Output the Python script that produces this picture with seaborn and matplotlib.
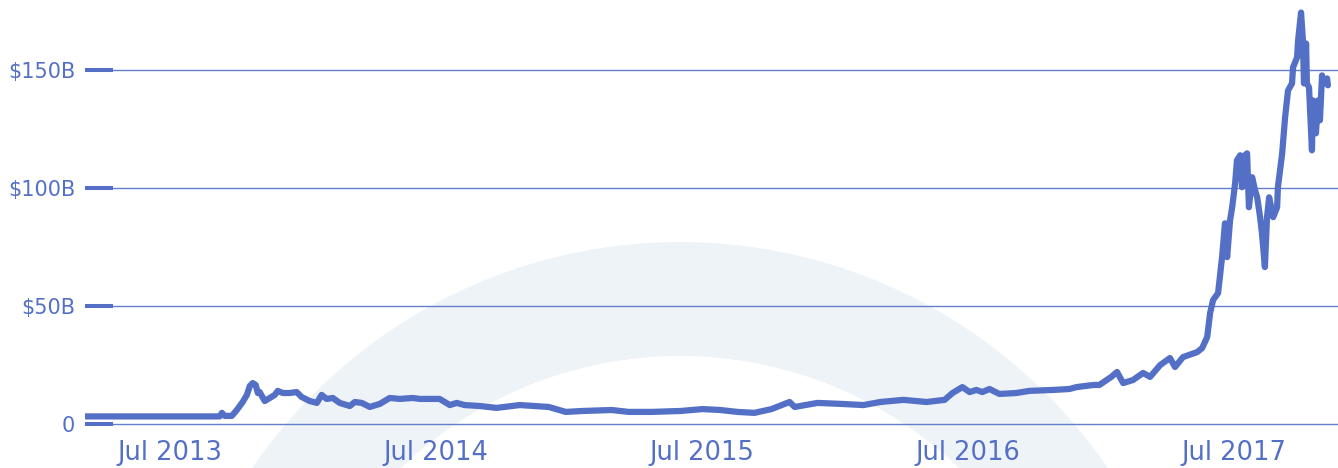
import numpy as np
import pandas as pd
import matplotlib
matplotlib.use("Agg")
import matplotlib.pyplot as plt
import matplotlib.dates as mdates
from matplotlib.patches import Wedge
from matplotlib.ticker import FuncFormatter
import seaborn as sns

sns.set_theme(style="white")
plt.rcParams["font.family"] = ["DejaVu Sans"]

BLUE = "#5470C6"
WATERMARK = "#EEF3F8"

# Time as decimal years, market cap in billions USD
years = [
    2013.177, 2013.684, 2013.692, 2013.703, 2013.729, 2013.748, 2013.770, 2013.786,
    2013.797, 2013.808, 2013.819, 2013.827, 2013.834, 2013.853, 2013.872, 2013.891,
    2013.902, 2013.921, 2013.947, 2013.973, 2013.992, 2014.022, 2014.049, 2014.067,
    2014.086, 2014.109, 2014.135, 2014.173, 2014.192, 2014.218, 2014.248, 2014.286,
    2014.323, 2014.361, 2014.410, 2014.436, 2014.473, 2014.511, 2014.549, 2014.575,
    2014.605, 2014.661, 2014.725, 2014.812, 2014.921, 2014.985, 2015.049, 2015.158,
    2015.222, 2015.308, 2015.417, 2015.500, 2015.567, 2015.631, 2015.695, 2015.759,
    2015.827, 2015.846, 2015.932, 2016.019, 2016.105, 2016.169, 2016.255, 2016.342,
    2016.410, 2016.440, 2016.477, 2016.504, 2016.530, 2016.552, 2016.579, 2016.616,
    2016.680, 2016.729, 2016.819, 2016.880, 2016.906, 2016.970, 2016.992, 2017.034,
    2017.056, 2017.079, 2017.116, 2017.154, 2017.180, 2017.218, 2017.255, 2017.274,
    2017.304, 2017.357, 2017.376, 2017.395, 2017.406, 2017.417, 2017.436, 2017.451,
    2017.462, 2017.470, 2017.481, 2017.489, 2017.500, 2017.507, 2017.519, 2017.526,
    2017.537, 2017.545, 2017.552, 2017.564, 2017.575, 2017.583, 2017.594, 2017.601,
    2017.612, 2017.620, 2017.628, 2017.643, 2017.658, 2017.661, 2017.677, 2017.688,
    2017.695, 2017.699, 2017.714, 2017.718, 2017.733, 2017.737, 2017.748, 2017.755,
    2017.759, 2017.767, 2017.770, 2017.778, 2017.789, 2017.793, 2017.804, 2017.812,
    2017.819, 2017.827, 2017.831, 2017.846, 2017.849,
]
market_cap = [
    3.4, 3.4, 4.9, 3.6, 3.6, 6.1, 9.5, 12.5,
    16.3, 17.5, 16.7, 13.3, 13.7, 9.9, 11.2, 12.5,
    14.2, 13.3, 13.3, 13.7, 11.6, 9.9, 9.1, 12.5,
    10.8, 11.2, 9.1, 7.8, 9.5, 9.1, 7.4, 8.7,
    11.2, 10.8, 11.2, 10.8, 10.8, 10.8, 8.2, 9.1,
    8.2, 7.8, 7.0, 8.2, 7.4, 5.3, 5.7, 6.1,
    5.3, 5.3, 5.7, 6.5, 6.1, 5.3, 4.9, 6.5,
    9.5, 7.4, 9.1, 8.7, 8.2, 9.5, 10.4, 9.5,
    10.4, 13.3, 15.8, 13.7, 14.6, 13.7, 15.0, 12.9,
    13.3, 14.2, 14.6, 15.0, 15.8, 16.7, 16.7, 20.1,
    22.2, 17.5, 18.8, 21.8, 20.1, 25.1, 28.1, 24.3,
    28.5, 30.6, 32.3, 37.0, 47.1, 52.6, 55.6, 70.8,
    85.1, 70.8, 86.4, 91.9, 102.0, 111.8, 113.9, 100.4,
    113.9, 114.7, 91.9, 104.6, 99.1, 96.1, 87.7, 80.9,
    66.6, 87.7, 96.1, 87.7, 91.9, 100.4, 114.7, 129.9,
    137.1, 141.3, 144.3, 151.1, 155.3, 162.5, 174.3, 162.5,
    144.3, 161.2, 144.3, 142.6, 116.0, 137.1, 123.2, 137.1,
    128.7, 147.7, 144.3, 146.4, 143.5,
]
y_ticks = [0, 50, 100, 150]
x_tick_dates = ["2013-07-01", "2014-07-01", "2015-07-01", "2016-07-01", "2017-07-01"]
x_range = [2013.177, 2017.887]
y_range = [-3.2, 179.6]


def year_to_date(y):
    start = pd.Timestamp(int(y), 1, 1)
    return start + pd.Timedelta(days=(y - int(y)) * 365)


df = pd.DataFrame({"date": [year_to_date(y) for y in years], "cap": market_cap})

W, H = 1338, 468
fig = plt.figure(figsize=(W / 100, H / 100), dpi=100)

# faint arc watermark behind the chart
bg = fig.add_axes([0, 0, 1, 1], zorder=0)
bg.set_xlim(0, W)
bg.set_ylim(H, 0)
bg.axis("off")
bg.add_patch(Wedge((680, 760), 518, 0, 360, width=114, color=WATERMARK, lw=0))

ax = fig.add_axes([85 / W, 36 / H, 1253 / W, 432 / H], zorder=1)
ax.set_facecolor("none")

sns.lineplot(data=df, x="date", y="cap", ax=ax, color=BLUE, linewidth=4.5)
ax.lines[0].set_solid_joinstyle("round")
ax.lines[0].set_solid_capstyle("round")

ax.set_xlim(year_to_date(x_range[0]), year_to_date(x_range[1]))
ax.set_ylim(*y_range)

ax.set_yticks(y_ticks)
ax.yaxis.set_major_formatter(FuncFormatter(lambda v, _: "0" if v == 0 else f"${v:.0f}B"))
ax.set_xticks(pd.to_datetime(x_tick_dates))
ax.xaxis.set_major_formatter(mdates.DateFormatter("%b %Y"))

ax.tick_params(axis="y", left=True, direction="in", length=20, width=2.9, color=BLUE,
               labelcolor=BLUE, labelsize=15, pad=7)
ax.tick_params(axis="x", bottom=True, length=0, labelcolor=BLUE, labelsize=18.5, pad=6)

ax.grid(axis="y", color=BLUE, linewidth=1.0, alpha=0.9)
ax.grid(axis="x", visible=False)
for s in ax.spines.values():
    s.set_visible(False)

ax.set_xlabel("")
ax.set_ylabel("")

fig.savefig("out.png", dpi=100)
